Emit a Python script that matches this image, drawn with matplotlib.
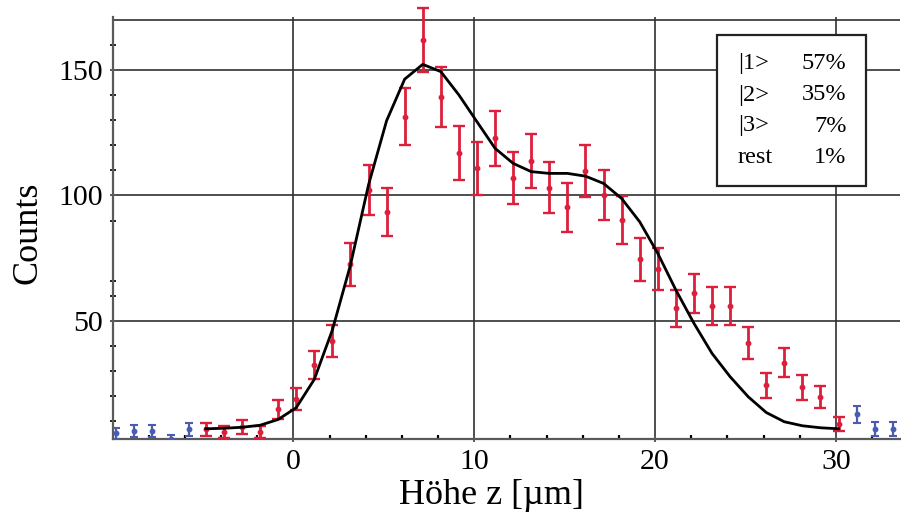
import numpy as np
import matplotlib
matplotlib.use("Agg")
import matplotlib.pyplot as plt
from matplotlib.patches import Rectangle

# Bin centres (height z in µm) and counts
z_left = [-9.8, -8.8, -7.8, -6.8, -5.8]
counts_left = [5.1, 6.0, 6.0, 2.8, 6.7]

z_fit = [-4.85, -3.85, -2.85, -1.85, -0.85, 0.15, 1.15, 2.15, 3.15, 4.15,
         5.15, 6.15, 7.15, 8.15, 9.15, 10.15, 11.15, 12.15, 13.15, 14.15,
         15.15, 16.15, 17.15, 18.15, 19.15, 20.15, 21.15, 22.15, 23.15, 24.15,
         25.15, 26.15, 27.15, 28.15, 29.15, 30.15]
counts_fit = [6.7, 5.7, 7.7, 5.5, 14.7, 18.8, 32.3, 42.0, 72.5, 102.2,
              93.3, 131.4, 162.0, 139.3, 116.8, 110.8, 122.8, 106.9, 113.7, 103.0,
              95.2, 109.7, 100.2, 90.2, 74.5, 70.6, 54.9, 60.9, 55.9, 55.9,
              41.2, 24.3, 33.2, 23.4, 19.7, 8.8]
model = [6.9, 7.1, 7.5, 8.3, 10.6, 15.3, 26.6, 46.3, 72.2, 104.2,
         129.8, 146.4, 152.3, 149.4, 140.1, 129.4, 118.8, 112.8, 109.5, 108.8,
         108.8, 107.7, 104.8, 98.8, 89.5, 76.9, 62.3, 49.0, 37.0, 27.7,
         19.7, 13.4, 9.7, 8.1, 7.3, 6.9]

z_right = [31.15, 32.15, 33.15]
counts_right = [12.6, 6.8, 6.8]

state_labels = ["|1>", "|2>", "|3>", "rest"]
state_shares = ["57%", "35%", "7%", "1%"]

x_major = [0, 10, 20, 30]
x_minor = [-8, -6, -4, -2, 2, 4, 6, 8, 12, 14, 16, 18, 22, 24, 26, 28, 32]
y_major = [50, 100, 150]
y_minor = [10, 20, 30, 40, 60, 66, 90, 110, 120, 130, 140, 160]

RED = "#DC1F3A"
BLUE = "#4A5BB2"
GRID = "#303030"
AXIS = "#5a5a5a"

plt.rcParams["font.family"] = ["Liberation Serif", "DejaVu Serif"]

fig = plt.figure(figsize=(9.01, 5.2), dpi=100)
W, H = 901, 520
left_px, right_px, top_px, bot_px = 112.7, 900, 17, 439.3
ax = fig.add_axes([left_px / W, (H - bot_px) / H,
                   (right_px - left_px) / W, (bot_px - top_px) / H])

ax.set_xlim(-10.0, 33.55)
ax.set_ylim(2.7, 171.2)

# grid
for xv in x_major:
    ax.axvline(xv, color=GRID, lw=1.2, zorder=1)
for yv in y_major + [170]:
    ax.axhline(yv, color=GRID, lw=1.2, zorder=1)

# data
blue_kw = dict(fmt="o", ms=3.2, elinewidth=1.6, capsize=3.2, capthick=1.5, zorder=4)
ax.errorbar(z_left, counts_left, yerr=np.sqrt(counts_left), color=BLUE,
            ecolor=BLUE, **blue_kw)
ax.errorbar(z_right, counts_right, yerr=np.sqrt(counts_right), color=BLUE,
            ecolor=BLUE, **blue_kw)
red = ax.errorbar(z_fit, counts_fit, yerr=np.sqrt(counts_fit), color=RED,
                  ecolor=RED, fmt="o", ms=3.2, elinewidth=2.0, capsize=4.6,
                  capthick=1.7, zorder=4)
for artist in red.lines[1] + red.lines[2]:
    artist.set_clip_on(False)
red.lines[0].set_clip_on(False)
ax.plot(z_fit, model, color="black", lw=2.0, zorder=5)

# axes styling
for side in ("top", "right"):
    ax.spines[side].set_visible(False)
for side in ("left", "bottom"):
    ax.spines[side].set_color(AXIS)
    ax.spines[side].set_linewidth(1.6)

ax.set_xticks(x_major)
ax.set_xticks(x_minor, minor=True)
ax.set_yticks(y_major)
ax.set_yticks(y_minor, minor=True)
ax.tick_params(axis="both", which="major", labelsize=21.5, length=4.5,
               width=1.4, color=AXIS, direction="inout", pad=5)
ax.tick_params(axis="x", which="minor", length=3, width=1.6,
               color="black", direction="in")
ax.tick_params(axis="y", which="minor", length=5, width=1.4,
               color="#222222", direction="inout")

ax.set_xlabel("Höhe z [µm]", fontsize=26)
ax.xaxis.set_label_coords(0.481, -0.095)
ax.set_ylabel("Counts", fontsize=26)
ax.yaxis.set_label_coords(-0.086, 0.49)

# population box
bx0, bx1 = (717.3 - left_px) / (right_px - left_px), (865.7 - left_px) / (right_px - left_px)
by0, by1 = (bot_px - 186) / (bot_px - top_px), (bot_px - 35) / (bot_px - top_px)
ax.add_patch(Rectangle((bx0, by0), bx1 - bx0, by1 - by0, transform=ax.transAxes,
                       facecolor="white", edgecolor="#222222", lw=1.6, zorder=6))
row_px = [63.3, 95, 126, 157.3]
for lab, share, rp in zip(state_labels, state_shares, row_px):
    ry = (bot_px - rp) / (bot_px - top_px)
    ax.text((738 - left_px) / (right_px - left_px), ry, lab, transform=ax.transAxes,
            ha="left", va="center", fontsize=17.5, zorder=7)
    ax.text((846.7 - left_px) / (right_px - left_px), ry, share, transform=ax.transAxes,
            ha="right", va="center", fontsize=17.5, zorder=7)

fig.savefig("out.png", dpi=100)
